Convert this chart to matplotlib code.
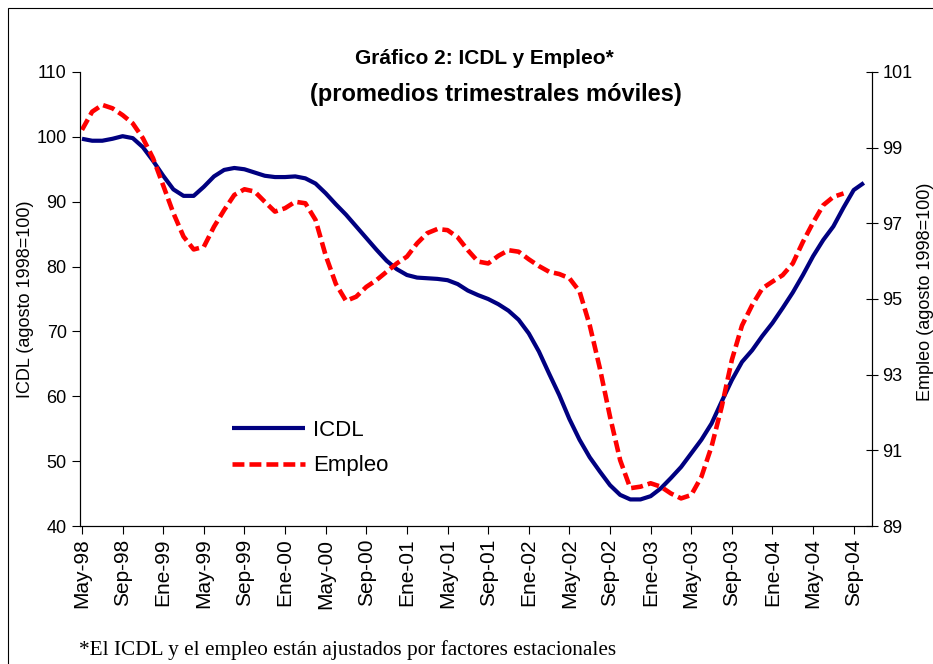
import matplotlib
matplotlib.use("Agg")
import matplotlib.pyplot as plt
from matplotlib.patches import Rectangle

plt.rcParams["font.family"] = ["Liberation Sans", "DejaVu Sans"]

TICK_LABELS = [
    "May-98", "Sep-98", "Ene-99", "May-99", "Sep-99", "Ene-00", "May-00",
    "Sep-00", "Ene-01", "May-01", "Sep-01", "Ene-02", "May-02", "Sep-02",
    "Ene-03", "May-03", "Sep-03", "Ene-04", "May-04", "Sep-04",
]

# ICDL, monthly from May-98 (left axis)
ICDL = [
    99.7, 99.4, 99.4, 99.7, 100.1, 99.8, 98.4, 96.3, 94.0, 91.9,
    90.9, 90.9, 92.3, 93.9, 94.9, 95.2, 95.0, 94.5, 94.0, 93.8,
    93.8, 93.9, 93.6, 92.8, 91.3, 89.6, 88.0, 86.2, 84.4, 82.6,
    80.9, 79.6, 78.7, 78.3, 78.2, 78.1, 77.9, 77.3, 76.3, 75.6,
    75.0, 74.2, 73.2, 71.8, 69.7, 66.9, 63.5, 60.2, 56.5, 53.3,
    50.6, 48.4, 46.3, 44.8, 44.1, 44.1, 44.6, 45.8, 47.4, 49.1,
    51.2, 53.3, 55.8, 59.2, 62.5, 65.3, 67.1, 69.3, 71.3, 73.6,
    76.0, 78.7, 81.6, 84.1, 86.2, 89.1, 91.8, 92.9,
]

# Empleo, monthly from May-98 (right axis)
EMPLEO = [
    99.47, 99.95, 100.13, 100.04, 99.86, 99.64, 99.25, 98.72, 98.0, 97.27,
    96.65, 96.31, 96.38, 96.91, 97.35, 97.75, 97.90, 97.84, 97.57, 97.31,
    97.40, 97.57, 97.53, 97.09, 96.15, 95.4, 94.95, 95.06, 95.32, 95.50,
    95.72, 95.94, 96.12, 96.47, 96.74, 96.85, 96.82, 96.63, 96.29, 95.99,
    95.94, 96.14, 96.29, 96.25, 96.05, 95.87, 95.72, 95.66, 95.55, 95.2,
    94.31, 93.17, 91.89, 90.74, 90.0, 90.04, 90.13, 90.04, 89.86, 89.73,
    89.82, 90.30, 91.10, 92.15, 93.39, 94.3, 94.84, 95.28, 95.46, 95.63,
    95.94, 96.51, 97.02, 97.48, 97.70, 97.79,
]


def main():
    fig = plt.figure(figsize=(9.33, 6.64), dpi=100)
    ax = fig.add_axes([0.0857, 0.2078, 0.8489, 0.6838])
    ax2 = ax.twinx()

    l1, = ax.plot(range(len(ICDL)), ICDL, color="#000080", linewidth=3.0,
                  solid_capstyle="butt", label="ICDL")
    l2, = ax2.plot(range(len(EMPLEO)), EMPLEO, color="#ff0000", linewidth=3.3,
                   dashes=(2.6, 1.1), label="Empleo")

    ax.set_xlim(-0.2, 77.8)
    ax.set_ylim(40, 110)
    ax.set_yticks(range(40, 111, 10))
    ax2.set_ylim(89, 101)
    ax2.set_yticks(range(89, 102, 2))
    ax.set_xticks(range(0, 4 * len(TICK_LABELS), 4))
    ax.set_xticklabels(TICK_LABELS, rotation=90)

    for a in (ax, ax2):
        a.spines["top"].set_visible(False)
        for s in a.spines.values():
            s.set_linewidth(0.8)
    ax.tick_params(axis="y", labelsize=13, length=6, width=0.8, direction="out")
    ax.tick_params(axis="x", labelsize=15, length=6, width=0.8, direction="out",
                   pad=3)
    ax2.tick_params(axis="y", labelsize=13, length=8, width=0.8, direction="inout")

    ax.set_ylabel("ICDL (agosto 1998=100)", fontsize=13, labelpad=2)
    fig.text(0.992, 0.56, "Empleo (agosto 1998=100)", rotation=90,
             fontsize=13, ha="center", va="center")

    fig.text(0.519, 1 - 58 / 664, "Gráfico 2: ICDL y Empleo*",
             fontsize=15, fontweight="bold", ha="center", va="center")
    fig.text(0.532, 1 - 94 / 664, "(promedios trimestrales móviles)",
             fontsize=17, fontweight="bold", ha="center", va="center")

    fig.legend([l1, l2], ["ICDL", "Empleo"], loc="upper left",
               bbox_to_anchor=(232 / 933, 1 - 420 / 664), frameon=False,
               fontsize=16, handlelength=3.3, handletextpad=0.35,
               borderpad=0, borderaxespad=0, labelspacing=0.65)

    fig.text(79 / 933, 1 - 650 / 664,
             "*El ICDL y el empleo están ajustados por factores estacionales",
             family=["Liberation Serif", "DejaVu Serif"], fontsize=15.3,
             ha="left", va="center")

    fig.patches.append(Rectangle((8 / 933, -0.1), 1.2, 1.088, fill=False,
                                 edgecolor="black", linewidth=0.8,
                                 transform=fig.transFigure, clip_on=False))

    fig.savefig("out.png", dpi=100)
    plt.close(fig)


if __name__ == "__main__":
    main()
